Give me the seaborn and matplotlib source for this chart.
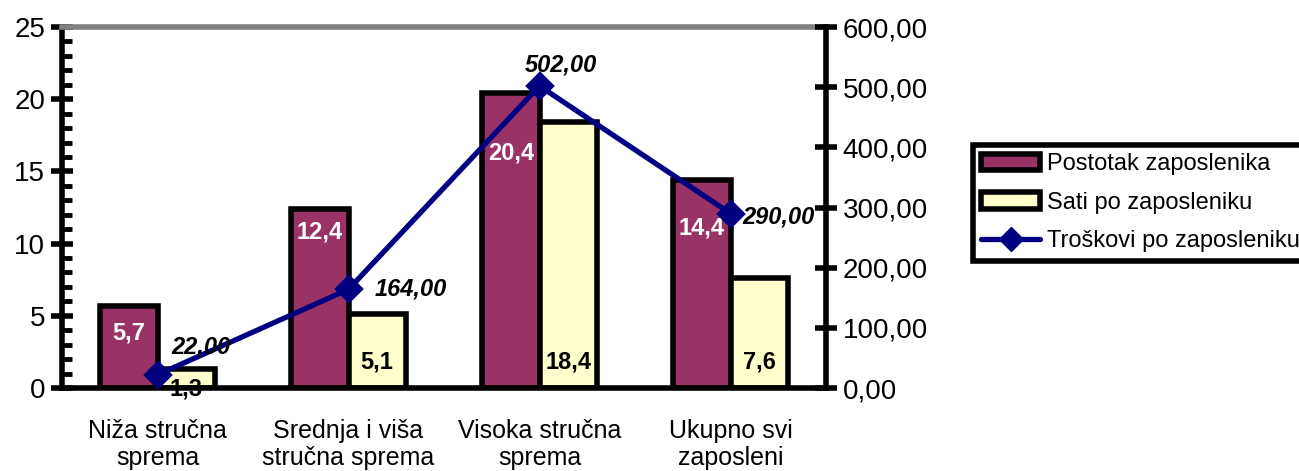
import numpy as np
import pandas as pd
import seaborn as sns
import matplotlib.pyplot as plt
from matplotlib.ticker import MultipleLocator, FuncFormatter
from matplotlib.patches import Patch
from matplotlib.lines import Line2D

categories = ["Niža stručna\nsprema", "Srednja i viša\nstručna sprema",
              "Visoka stručna\nsprema", "Ukupno svi\nzaposleni"]
postotak = [5.7, 12.4, 20.4, 14.4]
sati = [1.3, 5.1, 18.4, 7.6]
troskovi = [22.0, 164.0, 502.0, 290.0]
series_names = ["Postotak zaposlenika", "Sati po zaposleniku", "Troškovi po zaposleniku"]

sns.set_style("white")
plt.rcParams['font.family'] = ['Liberation Sans', 'DejaVu Sans']
plt.rcParams['text.color'] = 'black'
plt.rcParams['xtick.color'] = 'black'
plt.rcParams['ytick.color'] = 'black'
plt.rcParams['legend.edgecolor'] = 'black'

df = pd.DataFrame({
    "kategorija": categories * 2,
    "vrijednost": postotak + sati,
    "serija": [series_names[0]] * 4 + [series_names[1]] * 4,
})

maroon = "#993366"
cream = "#FFFFCC"
navy = "#000080"

fig = plt.figure(figsize=(12.99, 4.71), dpi=100)
ax = fig.add_axes([62 / 1299, 1 - 388 / 471, (826 - 62) / 1299, (388 - 27) / 471])
sns.barplot(data=df, x="kategorija", y="vrijednost", hue="serija",
            palette=[maroon, cream], width=0.6, edgecolor="black", linewidth=4,
            saturation=1, ax=ax, legend=False)

ax2 = ax.twinx()
sns.pointplot(x=categories, y=troskovi, color=navy, markers="D", markersize=12,
              linewidth=3.8, ax=ax2)

# bar labels
comma = lambda v, d: f"{v:.{d}f}".replace(".", ",")
top_off = [1.9, 1.6, 4.1, 3.3]
for i, (bar, v) in enumerate(zip(ax.containers[0], postotak)):
    cx = bar.get_x() + bar.get_width() / 2
    ax.text(cx, v - top_off[i], comma(v, 1), ha="center", va="center",
            color="white", fontsize=17, fontweight="bold")
for bar, v in zip(ax.containers[1], sati):
    cx = bar.get_x() + bar.get_width() / 2
    y = 1.8 if v > 3 else -0.1
    ax.text(cx, y, comma(v, 1), ha="center", va="center", zorder=1,
            color="black", fontsize=17, fontweight="bold")

# line labels
line_off = [(43, 28), (62, 0), (21, 21), (48, -3)]
for i, v in enumerate(troskovi):
    ax2.annotate(comma(v, 2), (i, v), xytext=line_off[i], textcoords="offset pixels",
                 ha="center", va="center", fontsize=17, fontweight="bold",
                 fontstyle="italic", color="black")

# axes limits and ticks
ax.set_xlim(-0.5, 3.5)
ax.set_ylim(0, 25)
ax2.set_ylim(0, 600)
ax.yaxis.set_major_locator(MultipleLocator(5))
ax.yaxis.set_minor_locator(MultipleLocator(1))
ax2.yaxis.set_major_locator(MultipleLocator(100))
ax2.yaxis.set_major_formatter(FuncFormatter(lambda v, p: comma(v, 2)))

ax.set_xticks(np.arange(-0.5, 4, 1))
ax.set_xticklabels([])
ax.set_xticks(range(len(categories)), minor=True)
ax.set_xticklabels(categories, minor=True, fontsize=18)
ax.tick_params(axis="x", which="major", direction="inout", length=14, width=4)
ax.tick_params(axis="x", which="minor", length=0, pad=22)
ax.tick_params(axis="y", which="major", direction="inout", length=16, width=4,
               labelsize=20, pad=4)
ax.tick_params(axis="y", which="minor", direction="in", length=7, width=3.5)
ax2.tick_params(axis="y", which="major", direction="inout", length=16, width=4,
                labelsize=20, pad=4)
ax2.tick_params(axis="y", which="minor", length=0)

ax.set_xlabel("")
ax.set_ylabel("")
ax2.set_xlabel("")
ax2.set_ylabel("")

for s in ["left", "bottom"]:
    ax.spines[s].set_color("black")
    ax.spines[s].set_linewidth(4)
ax.spines["top"].set_color("#808080")
ax.spines["top"].set_linewidth(4)
ax.spines["right"].set_visible(False)
for s in ["left", "bottom", "top"]:
    ax2.spines[s].set_visible(False)
ax2.spines["right"].set_color("black")
ax2.spines["right"].set_linewidth(4)

# legend
handles = [
    Patch(facecolor=maroon, edgecolor="black", linewidth=4),
    Patch(facecolor=cream, edgecolor="black", linewidth=4),
    Line2D([], [], color=navy, linewidth=3.8, marker="D", markersize=12),
]
leg = fig.legend(handles, series_names, loc="upper left",
                 bbox_to_anchor=(973 / 1299, 1 - 145 / 471), fontsize=17,
                 frameon=True, fancybox=False, framealpha=1, handlelength=2.5,
                 handleheight=0.7, handletextpad=0.3, labelspacing=0.7,
                 borderpad=0.35, borderaxespad=0)
leg.get_frame().set_edgecolor("black")
leg.get_frame().set_linewidth(4)

plt.savefig("out.png", dpi=100)
